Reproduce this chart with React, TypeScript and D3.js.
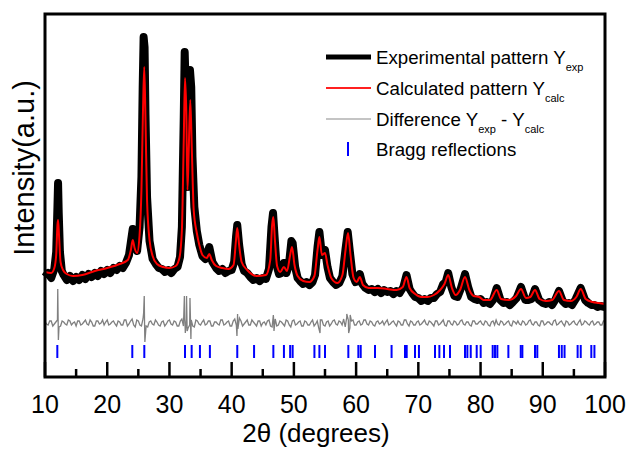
import React from 'react';
import * as d3 from 'd3';

const W = 630;
const H = 449;

const xTickMajor = [10, 20, 30, 40, 50, 60, 70, 80, 90, 100];
const xTickMinor = [15, 25, 35, 45, 55, 65, 75, 85, 95];

// Calculated pattern (2θ, intensity a.u.)
const calcPattern: [number, number][] = [
  [10, 105], [11, 104], [11.5, 109], [11.8, 122], [12.0, 152], [12.1, 157], [12.25, 142], [12.5, 115], [12.9, 107],
  [13.5, 103], [14.5, 101], [16, 102], [18, 106], [20, 109], [22, 113], [23.3, 117], [23.8, 127], [24.1, 137],
  [24.4, 129], [24.8, 124], [25.2, 142], [25.5, 187], [25.75, 267], [25.95, 310], [26.15, 257], [26.4, 177],
  [26.8, 137], [27.3, 121], [28, 113], [29, 110], [30, 109], [31, 111], [31.6, 119], [32.0, 147], [32.3, 237],
  [32.5, 299], [32.7, 267], [32.9, 187], [33.1, 227], [33.35, 277], [33.6, 227], [33.9, 167], [34.4, 144],
  [34.8, 132], [35.3, 122], [36.0, 119], [36.4, 123], [36.8, 117], [37.5, 111], [38.5, 109], [39.5, 108],
  [40.3, 112], [40.7, 137], [40.9, 149], [41.2, 132], [41.6, 115], [42.5, 107], [44, 101], [45.5, 102],
  [46.2, 117], [46.5, 152], [46.7, 160], [46.95, 137], [47.3, 111], [47.8, 105], [48.4, 110], [48.9, 106],
  [49.4, 122], [49.7, 130], [50.1, 112], [50.6, 101], [51.5, 96], [52.5, 95], [53.3, 101], [53.8, 127],
  [54.1, 140], [54.5, 122], [55.0, 124], [55.4, 112], [56, 99], [57, 94], [57.8, 102], [58.3, 127], [58.7, 144],
  [59.1, 122], [59.6, 99], [60.1, 95], [60.6, 100], [61.1, 92], [62, 89], [63.5, 89], [65, 88], [66.5, 87],
  [67.5, 90], [68.1, 100], [68.6, 89], [69.5, 83], [70.5, 80], [71.5, 80], [72.5, 82], [73.5, 87], [74.2, 93],
  [74.8, 102], [75.4, 89], [76, 82], [76.7, 87], [77.5, 100], [78.2, 87], [78.9, 81], [79.8, 80], [80.5, 77],
  [81.5, 77], [82.6, 87], [83.3, 78], [84.5, 77], [85.7, 81], [86.5, 88], [87.3, 79], [88.0, 80], [88.75, 87],
  [89.5, 78], [90.5, 76], [91.5, 77], [92.6, 86], [93.4, 77], [94.5, 76], [95.4, 80], [96.1, 88], [96.9, 78],
  [98, 75], [99, 74], [100, 73],
];

// Experimental pattern (2θ, intensity a.u.)
const expPattern: [number, number][] = [
  [10.0, 100], [10.5, 104], [11.0, 99], [11.5, 108], [11.8, 125], [12.0, 170], [12.1, 194], [12.2, 165], [12.4, 125],
  [12.7, 106], [13.0, 102], [13.5, 97], [14.0, 101], [14.5, 96], [15.0, 100], [15.5, 97], [16.0, 102], [16.5, 98],
  [17.0, 103], [17.5, 100], [18.0, 104], [18.5, 101], [19.0, 106], [19.5, 103], [20.0, 107], [20.5, 104], [21.0, 109],
  [21.5, 107], [22.0, 111], [22.5, 109], [23.0, 114], [23.5, 122], [23.8, 135], [24.1, 148], [24.4, 135], [24.8, 126],
  [25.2, 150], [25.5, 200], [25.7, 290], [25.85, 340], [26.0, 330], [26.15, 262], [26.4, 180], [26.8, 136], [27.3, 118],
  [27.8, 113], [28.3, 109], [28.8, 108], [29.3, 105], [29.8, 107], [30.3, 104], [30.8, 108], [31.3, 110], [31.7, 120],
  [32.0, 150], [32.3, 260], [32.45, 325], [32.65, 280], [32.9, 190], [33.1, 240], [33.3, 307], [33.5, 290], [33.7, 220],
  [34.0, 170], [34.4, 146], [34.8, 132], [35.3, 121], [35.8, 118], [36.4, 130], [36.9, 115], [37.5, 109], [38.0, 106],
  [38.5, 108], [39.0, 104], [39.5, 106], [40.0, 107], [40.4, 115], [40.7, 140], [40.9, 152], [41.2, 132], [41.6, 113],
  [42.0, 106], [42.5, 104], [43.0, 100], [43.5, 97], [44.0, 99], [44.5, 96], [45.0, 99], [45.5, 98], [46.0, 108],
  [46.4, 150], [46.65, 164], [46.9, 140], [47.2, 112], [47.6, 103], [48.0, 104], [48.4, 114], [48.8, 104], [49.2, 112],
  [49.6, 136], [49.8, 134], [50.2, 110], [50.6, 99], [51.0, 96], [51.5, 93], [52.0, 95], [52.5, 92], [53.0, 95],
  [53.4, 102], [53.8, 130], [54.1, 145], [54.5, 122], [55.0, 127], [55.4, 110], [55.8, 99], [56.3, 95], [56.8, 92],
  [57.3, 94], [57.8, 101], [58.3, 128], [58.65, 145], [59.0, 125], [59.4, 103], [59.9, 95], [60.3, 96], [60.6, 103],
  [61.0, 93], [61.5, 89], [62.0, 87], [62.5, 88], [63.0, 85], [63.5, 88], [64.0, 84], [64.5, 87], [65.0, 85],
  [65.5, 86], [66.0, 83], [66.5, 86], [67.0, 84], [67.6, 90], [68.1, 102], [68.6, 88], [69.0, 84], [69.5, 80],
  [70.0, 79], [70.5, 76], [71.0, 78], [71.5, 76], [72.0, 79], [72.5, 79], [73.0, 83], [73.5, 85], [74.0, 93],
  [74.4, 95], [74.8, 104], [75.3, 90], [75.8, 81], [76.3, 80], [76.8, 88], [77.5, 103], [78.0, 90], [78.5, 80],
  [79.0, 78], [79.5, 77], [80.0, 78], [80.5, 74], [81.0, 75], [81.5, 73], [82.0, 77], [82.6, 89], [83.2, 77],
  [83.7, 74], [84.2, 75], [84.7, 72], [85.2, 75], [85.8, 79], [86.5, 90], [87.2, 77], [87.7, 77], [88.2, 78],
  [88.75, 88], [89.4, 77], [90.0, 74], [90.5, 73], [91.0, 75], [91.5, 72], [92.0, 77], [92.6, 86], [93.2, 76],
  [93.7, 73], [94.2, 74], [94.7, 72], [95.3, 78], [96.1, 89], [96.8, 77], [97.3, 74], [97.8, 72], [98.3, 72],
  [98.8, 70], [99.3, 71], [100.0, 70],
];

// Difference Yexp - Ycalc, sampled every 0.5° from 10° (whole and half-step grids)
const diffStart = 10;
const diffStep = 0.5;
const diffValues = [
  1, -2, 2, -1, 3, -3, 1, -2, 2, 0,
  -3, 2, -1, 3, -2, 1, -3, 2, 0, -2,
  3, -1, 2, -3, 1, -2, 3, -1, 4, -4,
  2, -3, 0, -4, 2, -2, 1, -3, 2, -1,
  3, -2, 1, -3, 4, 0, -5, 3, -4, 2,
  -2, 3, -1, 2, -3, 1, -2, 3, -1, 2,
  -3, 4, -6, 2, -1, 3, -2, 1, -3, 2,
  0, -2, 3, -4, 4, -2, 1, -3, 2, -4,
  3, -1, 2, -3, 1, -2, 3, -1, -5, 3,
  -3, 2, -1, 3, -2, 1, 4, 6, -5, 3,
  -2, 2, -1, 3, -2, 1, -3, 2, 0, -2,
  3, -1, 2, -3, 1, -2, 3, -3, 1, -2,
  2, -1, 3, -2, 1, -3, 2, -1, 3, -3,
  2, -2, 1, -1, 3, -2, 1, -3, 2, -1,
  2, -2, 1, -3, 2, 3, -2, 1, -1, 2,
  -3, 1, 2, -2, 1, -1, 3, -2, 1, -3,
  2, -1, 1, -2, 3, -1, 2, -3, 1, -1,
  2, -2, 3, -1, 1, -2, 2, -1, 1, -2,
  1,
];
// values at 10.25°, 10.75°, ...
const diffValuesMid = [
  -1, 2, -3, 1, -4, 2, -1, 3, -2, 1,
  2, -2, 1, -1, 3, -3, 2, -1, 3, 1,
  -2, 1, -1, 2, -2, 3, -3, 2, -2, 3,
  -2, 4, -3, 1, -1, 3, -2, 1, -3, 2,
  -1, 2, -3, 2, -3, 4, -2, -3, 3, -1,
  1, -2, 2, -3, 1, -1, 3, -2, 1, -3,
  2, -2, 5, -3, 1, -2, 3, -1, 2, -3,
  1, 2, -3, 3, -3, 2, -1, 3, -2, 2,
  -2, 1, -3, 2, -2, 1, -3, 2, 3, -2,
  1, -3, 2, -1, 2, -2, -4, 3, 2, -2,
  1, -2, 3, -1, 2, -2, 1, -1, 2, 1,
  -2, 1, -1, 2, -2, 3, -1, 2, -2, 1,
  -2, 1, -1, 2, -1, 2, -2, 1, -2, 2,
  -1, 2, -2, 2, -1, 1, -2, 2, -1, 1,
  -1, 2, -2, 1, -2, -1, 2, -2, 1, -2,
  2, -1, -1, 2, -2, 2, -1, 1, -2, 2,
  -2, 1, -1, 2, -2, 1, -1, 2, -2, 1,
  -1, 1, -2, 2, -1, 1, -2, 1, -2, 2,
];
const diffSpikes: [number, number][] = [
  [12.05, 34], [12.15, -17], [25.85, 10], [25.95, 27], [26.05, -19],
  [32.4, 27], [32.55, -10], [32.75, 27], [32.85, -8], [33.3, 25], [33.45, -16],
  [40.85, -13], [40.95, 9], [46.7, 8], [46.8, -8], [54.2, -10],
  [58.5, 9], [58.8, -10], [59.05, 8],
];
const diffOffset = 54;

// Bragg reflection positions (2θ)
const braggPositions = [
  11.98, 24.03, 25.96, 32.5, 33.57, 34.9, 36.5, 40.9, 43.6, 46.7, 48.4, 49.4, 49.8, 53.3, 54.1, 55.0,
  58.75, 60.36, 60.74, 63.04, 65.7, 67.86, 68.13, 69.46, 70.1, 72.68, 73.38, 74.13, 75.09, 77.5, 77.88,
  78.42, 79.38, 80.02, 81.95, 82.32, 82.7, 84.47, 86.46, 86.72, 88.75, 89.12, 92.6, 93.05, 93.5, 95.6,
  96.1, 97.8, 98.3, 100,
];

const FONT = "'Liberation Sans', Arial, Helvetica, sans-serif";

export default function App() {
  const x = d3.scaleLinear().domain([10, 100]).range([45, 605]);
  const y = d3.scaleLinear().domain([0, 363]).range([377, 14]);

  const calcLine = d3.line<[number, number]>().x(d => x(d[0])).y(d => y(d[1])).curve(d3.curveMonotoneX);
  const expLine = d3.line<[number, number]>().x(d => x(d[0])).y(d => y(d[1]));

  const diffPts: [number, number][] = diffValues
    .map((v, i) => [diffStart + i * diffStep, v] as [number, number])
    .concat(diffValuesMid.map((v, i) => [diffStart + diffStep / 2 + i * diffStep, v] as [number, number]))
    .concat(diffSpikes)
    .sort((a, b) => a[0] - b[0]);
  const diffLine = d3.line<[number, number]>().x(d => x(d[0])).y(d => y(d[1] + diffOffset));

  const braggTop = y(32);
  const braggBottom = y(19);

  const legendX1 = 326, legendX2 = 371, textX = 376;
  const rows = [57, 88, 119, 149];

  return (
    <svg width={W} height={H} style={{ position: 'absolute', left: 0, top: 0, background: '#fff' }} fontFamily={FONT}>
      <path d={expLine(expPattern) || ''} fill="none" stroke="#000" strokeWidth={8} strokeLinejoin="round" />
      <path d={calcLine(calcPattern) || ''} fill="none" stroke="#ff0000" strokeWidth={2} />
      <path d={diffLine(diffPts) || ''} fill="none" stroke="#808080" strokeWidth={1.3} />
      {braggPositions.map((b, i) => (
        <line key={i} x1={x(b)} x2={x(b)} y1={braggTop} y2={braggBottom} stroke="#0000ff" strokeWidth={2} />
      ))}
      {/* frame */}
      <rect x={45} y={14} width={560} height={363} fill="none" stroke="#000" strokeWidth={3} />
      {xTickMajor.map(t => (
        <line key={'M' + t} x1={x(t)} x2={x(t)} y1={377} y2={362} stroke="#000" strokeWidth={2.5} />
      ))}
      {xTickMinor.map(t => (
        <line key={'m' + t} x1={x(t)} x2={x(t)} y1={377} y2={369} stroke="#000" strokeWidth={2.5} />
      ))}
      {xTickMajor.map(t => (
        <text key={'l' + t} x={x(t)} y={413} textAnchor="middle" fontSize={25} fill="#000">{t}</text>
      ))}
      <text x={316} y={442} textAnchor="middle" fontSize={26} fill="#000">2θ (degrees)</text>
      <text transform="translate(34,168) rotate(-90)" textAnchor="middle" fontSize={29} fill="#000">Intensity(a.u.)</text>

      {/* legend */}
      <line x1={legendX1} x2={legendX2} y1={rows[0]} y2={rows[0]} stroke="#000" strokeWidth={5} />
      <line x1={legendX1} x2={legendX2} y1={rows[1]} y2={rows[1]} stroke="#ff2020" strokeWidth={2} />
      <line x1={legendX1} x2={legendX2} y1={rows[2]} y2={rows[2]} stroke="#b0b0b0" strokeWidth={1.5} />
      <line x1={348} x2={348} y1={rows[3] - 7} y2={rows[3] + 7} stroke="#0000ff" strokeWidth={2} />
      <text x={textX} y={rows[0] + 6.5} fontSize={18.7} fill="#000">
        Experimental pattern Y<tspan fontSize={11} dy={7}>exp</tspan>
      </text>
      <text x={textX} y={rows[1] + 6.5} fontSize={18.7} fill="#000">
        Calculated pattern Y<tspan fontSize={11} dy={7}>calc</tspan>
      </text>
      <text x={textX} y={rows[2] + 6.5} fontSize={18.7} fill="#000">
        Difference Y<tspan fontSize={11} dy={7}>exp</tspan><tspan dy={-7}> - Y</tspan><tspan fontSize={11} dy={7}>calc</tspan>
      </text>
      <text x={textX} y={rows[3] + 6.5} fontSize={18.7} fill="#000">Bragg reflections</text>
    </svg>
  );
}
